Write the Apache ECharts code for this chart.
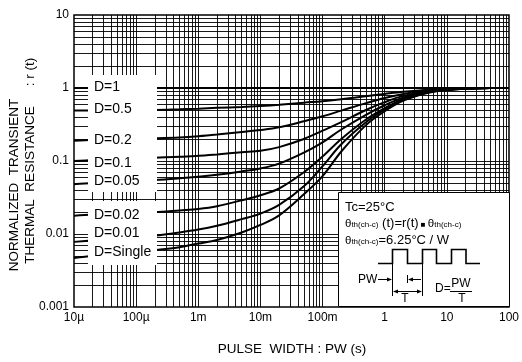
<!DOCTYPE html>
<html><head><meta charset="utf-8">
<script src="https://cdn.jsdelivr.net/npm/echarts@6/dist/echarts.min.js"></script>
<style>html,body{margin:0;padding:0;background:#fff}#c{width:522px;height:362px}</style>
</head><body><div id="c"></div>
<script>
// ---- data ----
const xTickLabels = ['10µ', '100µ', '1m', '10m', '100m', '1', '10', '100'];
const yTickLabels = ['0.001', '0.01', '0.1', '1', '10'];
const pulseWidths = [1e-5, 2e-5, 5e-5, 1e-4, 2e-4, 5e-4, 1e-3, 2e-3, 5e-3, 1e-2, 2e-2, 5e-2, 0.1, 0.2, 0.5, 1, 2, 5, 10, 20, 50, 100];
const curveNames = ['D=1', 'D=0.5', 'D=0.2', 'D=0.1', 'D=0.05', 'D=0.02', 'D=0.01', 'D=Single'];
const rD1      = [1, 1, 1, 1, 1, 1, 1, 1, 1, 1, 1, 1, 1, 1, 1, 1, 1, 1, 1, 1, 1, 1];
const rD05     = [0.49, 0.49, 0.495, 0.50, 0.50, 0.51, 0.52, 0.535, 0.55, 0.567, 0.59, 0.63, 0.66, 0.70, 0.77, 0.83, 0.89, 0.95, 0.975, 0.99, 1.0, 1.0];
const rD02     = [0.19, 0.195, 0.20, 0.203, 0.205, 0.21, 0.218, 0.23, 0.25, 0.266, 0.29, 0.35, 0.41, 0.49, 0.62, 0.73, 0.83, 0.93, 0.97, 0.99, 1.0, 1.0];
const rD01     = [0.10, 0.103, 0.106, 0.108, 0.111, 0.114, 0.118, 0.123, 0.132, 0.138, 0.155, 0.20, 0.26, 0.34, 0.50, 0.64, 0.78, 0.91, 0.96, 0.985, 1.0, 1.0];
const rD005    = [0.048, 0.050, 0.052, 0.054, 0.055, 0.058, 0.061, 0.065, 0.072, 0.079, 0.092, 0.13, 0.18, 0.27, 0.43, 0.58, 0.74, 0.89, 0.95, 0.98, 1.0, 1.0];
const rD002    = [0.0178, 0.0185, 0.019, 0.0195, 0.0198, 0.021, 0.022, 0.024, 0.029, 0.034, 0.042, 0.070, 0.115, 0.20, 0.37, 0.53, 0.71, 0.88, 0.95, 0.98, 1.0, 1.0];
const rD001    = [0.0078, 0.0082, 0.0087, 0.0091, 0.0095, 0.0105, 0.0115, 0.013, 0.016, 0.019, 0.025, 0.045, 0.085, 0.17, 0.34, 0.51, 0.70, 0.87, 0.94, 0.98, 1.0, 1.0];
const rSingle  = [0.0047, 0.0050, 0.0053, 0.0056, 0.0060, 0.0066, 0.0074, 0.0083, 0.0105, 0.0133, 0.018, 0.035, 0.062, 0.135, 0.31, 0.48, 0.67, 0.86, 0.94, 0.98, 1.0, 1.0];
const curveValues = [rD1, rD05, rD02, rD01, rD005, rD002, rD001, rSingle];

// ---- chart ----
const FONT = '"Liberation Sans", Arial, Helvetica, sans-serif';
const chart = echarts.init(document.getElementById('c'), null, {renderer: 'canvas'});
const X_MIN = 1e-5, X_MAX = 100, Y_MIN = 0.001, Y_MAX = 10;

// log grid (decades + 2..9 minors)
const gridLines = [];
for (let d = -5; d <= 1; d++) for (let m = 1; m <= 9; m++) {
  const v = m * Math.pow(10, d);
  if (v > X_MIN * 1.0001 && v < X_MAX * 0.9999) gridLines.push({coords: [[v, Y_MIN], [v, Y_MAX]]});
}
for (let d = -3; d <= 0; d++) for (let m = 1; m <= 9; m++) {
  const v = m * Math.pow(10, d);
  if (v > Y_MIN * 1.0001 && v < Y_MAX * 0.9999) gridLines.push({coords: [[X_MIN, v], [X_MAX, v]]});
}

const series = curveValues.map((vals, i) => ({
  name: curveNames[i],
  type: 'line',
  data: pulseWidths.map((x, j) => [x, vals[j]]),
  showSymbol: false,
  smooth: 0.35,
  lineStyle: {color: '#000', width: 2},
  z: 5,
  silent: true
}));
series.push({
  type: 'lines',
  coordinateSystem: 'cartesian2d',
  data: gridLines,
  silent: true,
  z: 1,
  lineStyle: {color: '#000', width: 1, opacity: 0.9, type: 'solid'},
  effect: {show: false}
});

const graphics = [];
// legend label boxes
graphics.push({type: 'rect', shape: {x: 88, y: 75, width: 69, height: 117}, style: {fill: '#fff'}, z: 100});
graphics.push({type: 'rect', shape: {x: 88, y: 201, width: 69, height: 64}, style: {fill: '#fff'}, z: 100});
const labelY = [87.5, 109, 140, 163, 181, 215, 233, 252];
curveNames.forEach((n, i) => {
  graphics.push({type: 'text', x: 94, y: labelY[i], z: 101,
    style: {text: n, font: '14px ' + FONT, fill: '#000', align: 'left', verticalAlign: 'middle'}});
});
// y axis name
graphics.push({type: 'text', x: 14, y: 185, rotation: Math.PI / 2, z: 101,
  style: {text: 'NORMALIZED  TRANSIENT', font: '13.5px ' + FONT, fill: '#000', align: 'center', verticalAlign: 'middle'}});
graphics.push({type: 'text', x: 30, y: 185, rotation: Math.PI / 2, z: 101,
  style: {text: 'THERMAL  RESISTANCE', font: '13.5px ' + FONT, fill: '#000', align: 'center', verticalAlign: 'middle'}});
graphics.push({type: 'text', x: 30, y: 72, rotation: Math.PI / 2, z: 101,
  style: {text: ': r (t)', font: '13.5px ' + FONT, fill: '#000', align: 'center', verticalAlign: 'middle'}});
// x axis name
graphics.push({type: 'text', x: 292, y: 349, z: 101,
  style: {text: 'PULSE  WIDTH : PW (s)', font: '13.5px ' + FONT, fill: '#000', align: 'center', verticalAlign: 'middle'}});
// info box
graphics.push({type: 'rect', shape: {x: 338.5, y: 192.5, width: 171, height: 114}, style: {fill: '#fff', stroke: '#000', lineWidth: 1}, z: 100});
graphics.push({type: 'text', x: 345, y: 207, z: 101,
  style: {text: 'Tc=25°C', font: '13px ' + FONT, fill: '#000', align: 'left', verticalAlign: 'middle'}});
const rich = {
  t: {fontSize: 11.5, fontFamily: FONT, fill: '#000', height: 14},
  s: {fontSize: 8, fontFamily: FONT, fill: '#000', verticalAlign: 'bottom', height: 14, padding: [3, 0, 0, 0]},
  n: {fontSize: 13, fontFamily: FONT, fill: '#000', height: 14},
  b: {fontSize: 8, fontFamily: FONT, fill: '#000', height: 14, padding: [2, 0, 0, 0]}
};
graphics.push({type: 'text', x: 345, y: 223.5, z: 101,
  style: {text: '{t|θ}{s|th(ch-c)}{n| (t)=r(t)}{b| ■ }{t|θ}{s|th(ch-c)}', rich: rich, align: 'left', verticalAlign: 'middle'}});
graphics.push({type: 'text', x: 345, y: 240.5, z: 101,
  style: {text: '{t|θ}{s|th(ch-c)}{n|=6.25°C / W}', rich: rich, align: 'left', verticalAlign: 'middle'}});
// waveform
graphics.push({type: 'polyline', z: 101, shape: {points: [[378, 263.5], [392.5, 263.5], [392.5, 249.5], [407.5, 249.5], [407.5, 263.5], [422.5, 263.5], [422.5, 249.5], [436.5, 249.5], [436.5, 263.5], [451.5, 263.5], [451.5, 249.5], [466, 249.5], [466, 263.5], [480, 263.5]]},
  style: {stroke: '#000', lineWidth: 1.6, fill: null}});
// vertical guides
graphics.push({type: 'line', z: 101, shape: {x1: 392.5, y1: 263.5, x2: 392.5, y2: 296}, style: {stroke: '#000', lineWidth: 1}});
graphics.push({type: 'line', z: 101, shape: {x1: 422.5, y1: 263.5, x2: 422.5, y2: 296}, style: {stroke: '#000', lineWidth: 1}});
graphics.push({type: 'line', z: 101, shape: {x1: 407.5, y1: 275, x2: 407.5, y2: 283}, style: {stroke: '#000', lineWidth: 1}});
// PW arrows
graphics.push({type: 'text', x: 358, y: 280, z: 101, style: {text: 'PW', font: '12px ' + FONT, fill: '#000', align: 'left', verticalAlign: 'middle'}});
graphics.push({type: 'line', z: 101, shape: {x1: 378, y1: 279.5, x2: 390, y2: 279.5}, style: {stroke: '#000', lineWidth: 1}});
graphics.push({type: 'polygon', z: 101, shape: {points: [[392, 279.5], [387, 277.5], [387, 281.5]]}, style: {fill: '#000'}});
graphics.push({type: 'line', z: 101, shape: {x1: 410, y1: 279.5, x2: 421, y2: 279.5}, style: {stroke: '#000', lineWidth: 1}});
graphics.push({type: 'polygon', z: 101, shape: {points: [[408, 279.5], [413, 277.5], [413, 281.5]]}, style: {fill: '#000'}});
// T arrow
graphics.push({type: 'line', z: 101, shape: {x1: 394, y1: 291.5, x2: 421, y2: 291.5}, style: {stroke: '#000', lineWidth: 1}});
graphics.push({type: 'polygon', z: 101, shape: {points: [[393, 291.5], [398, 289.5], [398, 293.5]]}, style: {fill: '#000'}});
graphics.push({type: 'polygon', z: 101, shape: {points: [[422, 291.5], [417, 289.5], [417, 293.5]]}, style: {fill: '#000'}});
graphics.push({type: 'text', x: 405, y: 298.5, z: 101, style: {text: 'T', font: '12px ' + FONT, fill: '#000', align: 'center', verticalAlign: 'middle'}});
// D = PW / T
graphics.push({type: 'text', x: 435, y: 289, z: 101, style: {text: 'D=', font: '12px ' + FONT, fill: '#000', align: 'left', verticalAlign: 'middle'}});
graphics.push({type: 'text', x: 461, y: 284, z: 101, style: {text: 'PW', font: '12px ' + FONT, fill: '#000', align: 'center', verticalAlign: 'middle'}});
graphics.push({type: 'line', z: 101, shape: {x1: 450, y1: 291.5, x2: 472, y2: 291.5}, style: {stroke: '#000', lineWidth: 1}});
graphics.push({type: 'text', x: 462, y: 298.5, z: 101, style: {text: 'T', font: '12px ' + FONT, fill: '#000', align: 'center', verticalAlign: 'middle'}});

chart.setOption({
  animation: false,
  backgroundColor: '#fff',
  textStyle: {fontFamily: FONT},
  grid: {left: 74, right: 12, top: 15, bottom: 55, show: true, borderColor: '#000', borderWidth: 1.5, containLabel: false},
  xAxis: {
    type: 'log', logBase: 10, min: X_MIN, max: X_MAX, splitNumber: 7,
    axisLine: {show: false}, axisTick: {show: false},
    splitLine: {show: false},
    axisLabel: {margin: 5, color: '#000', fontSize: 12, fontFamily: FONT,
      formatter: v => xTickLabels[Math.round(Math.log10(v)) + 5]}
  },
  yAxis: {
    type: 'log', logBase: 10, min: Y_MIN, max: Y_MAX, splitNumber: 4,
    axisLine: {show: false}, axisTick: {show: false},
    splitLine: {show: false},
    axisLabel: {margin: 5, color: '#000', fontSize: 12, fontFamily: FONT,
      formatter: v => yTickLabels[Math.round(Math.log10(v)) + 3]}
  },
  series: series,
  graphic: {elements: graphics}
});
</script></body></html>
